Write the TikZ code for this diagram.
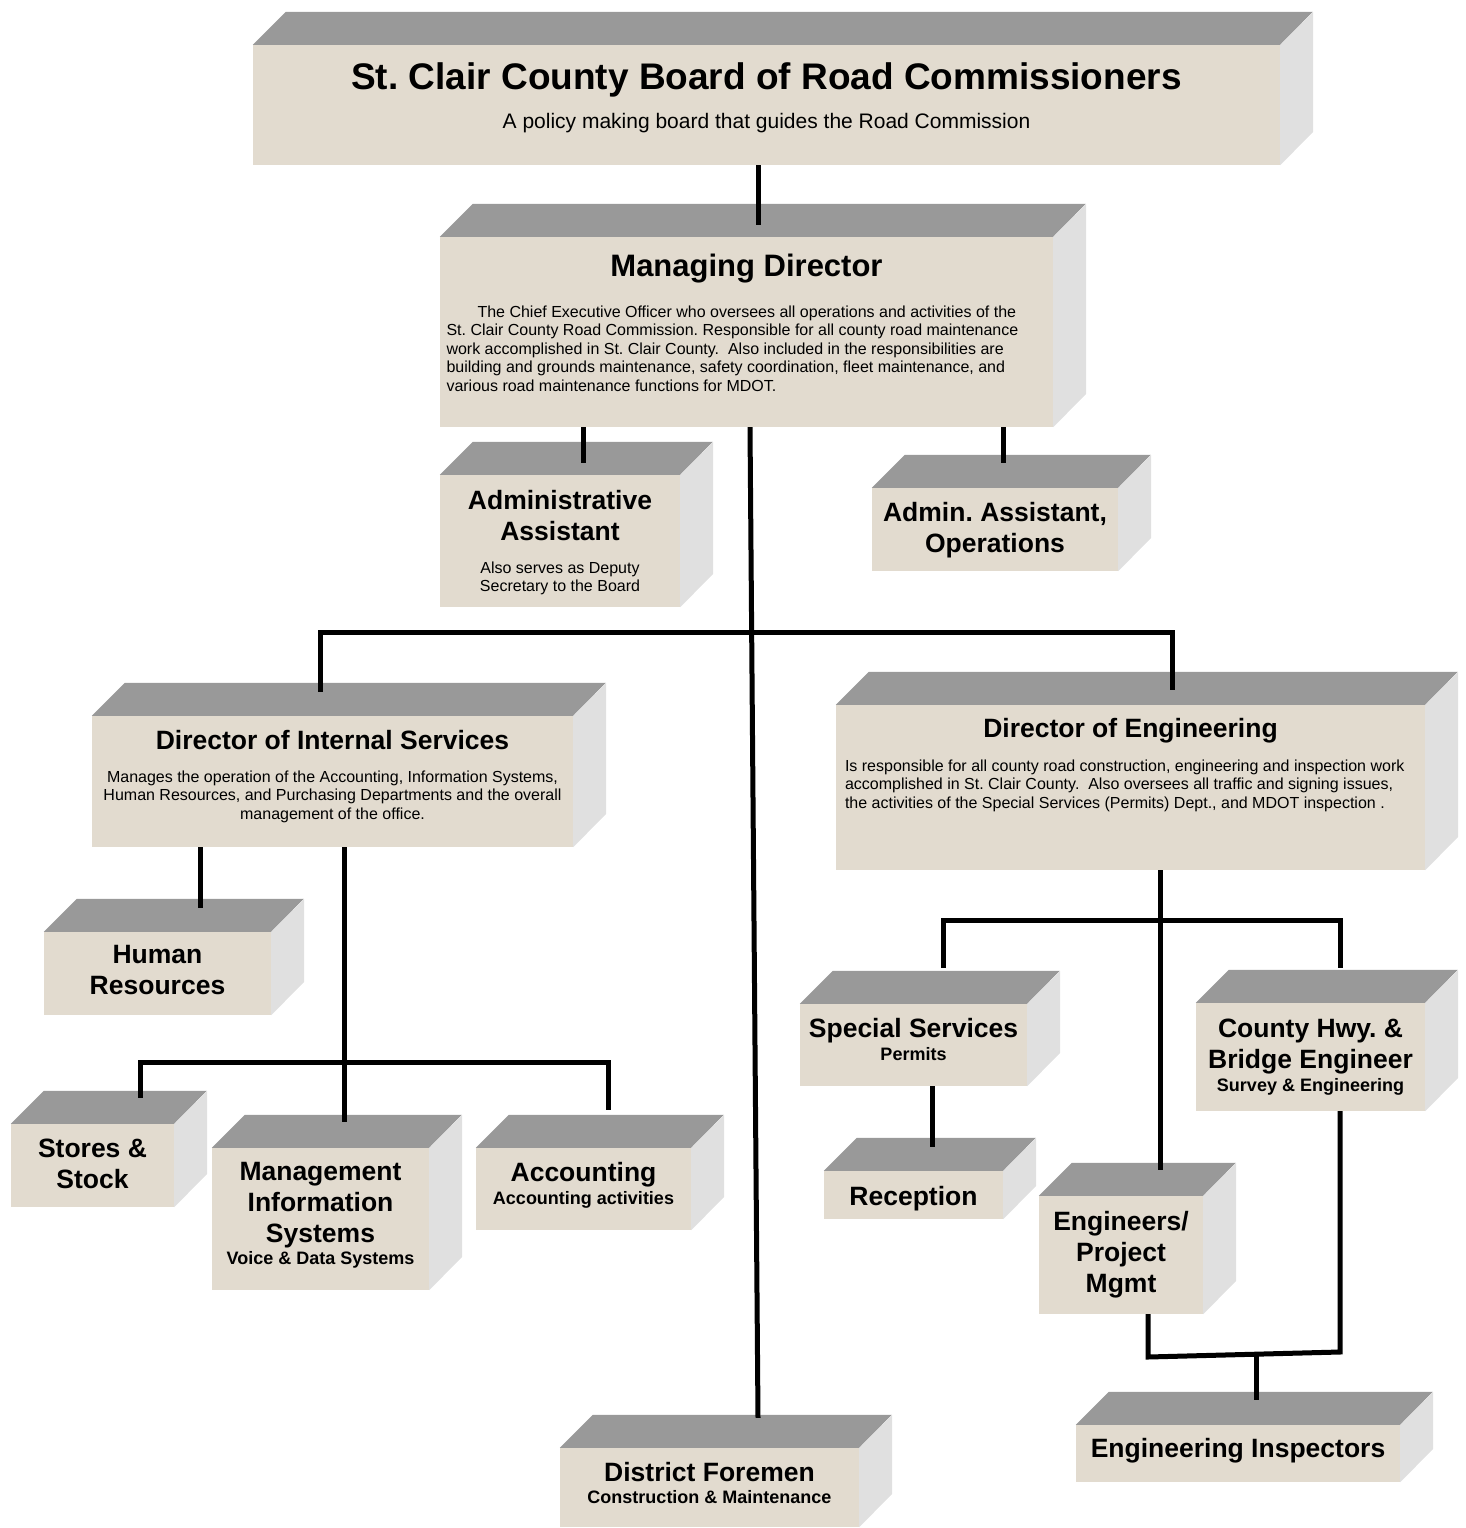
\documentclass[tikz,border=0pt]{standalone}
\usepackage{fontspec}
\setmainfont{Liberation Sans}
\definecolor{stone}{HTML}{E2DBCF}
\definecolor{lid}{HTML}{999999}
\definecolor{flank}{HTML}{E0E0E0}
\tikzset{
  front/.style={fill=stone, inner sep=0pt, draw=none},
  lbl/.style={anchor=north, align=center, inner sep=0pt, font=\fontsize{26.5}{31}\selectfont\bfseries},
  conn/.style={line width=5pt, black},
}
\newcommand{\smalltext}{\fontsize{16}{18.5}\selectfont\mdseries}
\newcommand{\subtext}{\fontsize{18}{22}\selectfont}
% block: front face node, lid, flank and its label
\newcommand{\orgblock}[8][]{%
  \node[front, minimum width={(#5-#3)*1pt}, minimum height={(#6-#4)*1pt}] (#2) at ({(#3+#5)/2},{(#4+#6)/2}) {};
  \fill[lid] (#2.north west) -- ++(33,-33) -- ++({#5-#3},0) -- (#2.north east) -- cycle;
  \fill[flank] (#2.north east) -- ++(33,-33) -- ++(0,{#6-#4}) -- (#2.south east) -- cycle;
  \node[lbl,#1] (#2-text) at ({(#3+#5)/2},#7) {#8};
}
\begin{document}
\frenchspacing
\begin{tikzpicture}[x=1pt,y=-1pt]
\useasboundingbox (0,0) rectangle (1465,1528);

% board and managing director
\orgblock[font=\fontsize{37}{44}\selectfont\bfseries]{board}{253}{45}{1280}{165}{62}{St. Clair County Board of Road Commissioners\\[-4.5pt]{\fontsize{21}{25}\selectfont\mdseries A policy making board that guides the Road Commission}}
\orgblock[font=\fontsize{31}{36}\selectfont\bfseries]{md}{440}{237}{1053}{427}{254}{Managing Director\\[4.7pt]\parbox[t]{600pt}{\smalltext\raggedright\hspace*{31pt}The Chief Executive Officer who oversees all operations and activities of the\\St. Clair County Road Commission. Responsible for all county road maintenance\\work accomplished in St. Clair County.\ \ Also included in the responsibilities are\\building and grounds maintenance, safety coordination, fleet maintenance, and\\various road maintenance functions for MDOT.}}
\orgblock{aa}{440}{475}{680}{607}{490.5}{Administrative\\Assistant\\[1.2pt]{\smalltext Also serves as Deputy}\\[-13pt]{\smalltext Secretary to the Board}}
\orgblock{ops}{872}{488}{1118}{571}{502.5}{Admin. Assistant,\\Operations}

% directors
\orgblock{intsvc}{92}{716}{573}{847}{730.5}{Director of Internal Services\\[1.2pt]{\smalltext Manages the operation of the Accounting, Information Systems,}\\[-12.5pt]{\smalltext Human Resources, and Purchasing Departments and the overall}\\[-12.5pt]{\smalltext management of the office.}}
\orgblock{eng}{836}{705}{1425}{870}{718.5}{Director of Engineering\\[2.2pt]\parbox[t]{571pt}{\smalltext\raggedright Is responsible for all county road construction, engineering and inspection work\\accomplished in St. Clair County.\ \ Also oversees all traffic and signing issues,\\the activities of the Special Services (Permits) Dept., and MDOT inspection .}}

% internal services
\orgblock{hr}{44}{932}{271}{1015}{945.5}{Human\\Resources}
\orgblock{stores}{11}{1124}{174}{1207}{1138.5}{Stores \&\\Stock}
\orgblock{mis}{212}{1148}{429}{1290}{1162.5}{Management\\Information\\Systems\\[-9pt]{\subtext Voice \& Data Systems}}
\orgblock{acct}{476}{1148}{691}{1230}{1162.5}{Accounting\\[-8pt]{\subtext Accounting activities}}

% engineering
\orgblock{spec}{800}{1004}{1027}{1086}{1018.5}{Special Services\\[-8pt]{\subtext Permits}}
\orgblock{county}{1196}{1003}{1425}{1111}{1018.5}{County Hwy. \&\\Bridge Engineer\\[-8pt]{\subtext Survey \& Engineering}}
\orgblock{recep}{824}{1171}{1003}{1219}{1186.5}{Reception}
\orgblock{engpm}{1039}{1196}{1203}{1314}{1211.5}{Engineers/\\Project\\Mgmt}
\orgblock{insp}{1076}{1425}{1400}{1482}{1438.5}{Engineering Inspectors}
\orgblock{df}{560}{1448}{859}{1527}{1462.5}{District Foremen\\[-9pt]{\subtext Construction \& Maintenance}}

% connectors
\coordinate (inspjoin) at (1256,1355);
\draw[conn] (board.south -| 758,0) -- ([yshift=12pt]md.north -| 758,0);
\draw[conn] (md.south -| 583,0) -- ([yshift=12pt]aa.north -| 583,0);
\draw[conn] (md.south -| 1003,0) -- ([yshift=25pt]ops.north -| 1003,0);
\draw[conn] (md.south -| 750,0) -- ([yshift=30pt]df.north -| 758,0);
\draw[conn] ([yshift=24pt]intsvc.north -| 320,0) -- (320,632) -- (1172,632) -- ([yshift=15pt]eng.north -| 1172,0);
\draw[conn] (intsvc.south -| 200,0) -- ([yshift=24pt]hr.north -| 200,0);
\draw[conn] (intsvc.south -| 344,0) -- ([yshift=26pt]mis.north -| 344,0);
\draw[conn] ([yshift=26pt]stores.north -| 140,0) -- (140,1062) -- (608,1062) -- ([yshift=38pt]acct.north -| 608,0);
\draw[conn] (eng.south -| 1160,0) -- ([yshift=26pt]engpm.north -| 1160,0);
\draw[conn] ([yshift=36pt]spec.north -| 943,0) -- (943,920) -- (1340,920) -- ([yshift=35pt]county.north -| 1340,0);
\draw[conn] (spec.south -| 932,0) -- ([yshift=24pt]recep.north -| 932,0);
\draw[conn] (county.south -| 1340,0) -- (1340,1352) -- (1148,1357) -- (engpm.south -| 1148,0);
\draw[conn] (inspjoin) -- ([yshift=25pt]insp.north -| 1256,0);
\end{tikzpicture}
\end{document}
